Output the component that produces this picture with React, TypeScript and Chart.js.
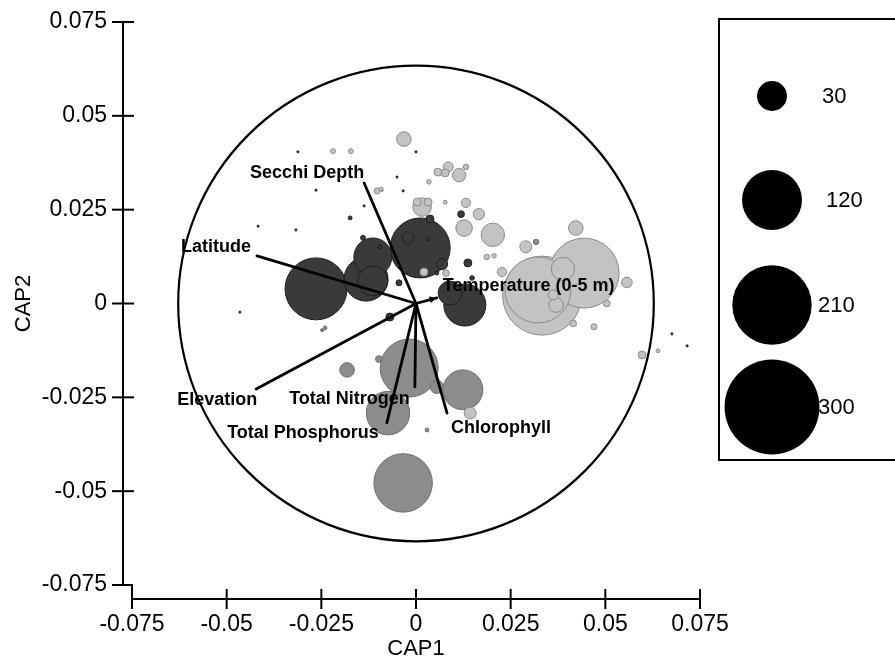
import React, { useEffect, useRef } from 'react';
import { Chart, registerables } from 'chart.js';
Chart.register(...registerables);

// ---- axis ticks ----
const tickValues = [-0.075, -0.05, -0.025, 0, 0.025, 0.05, 0.075];
const tickLabels = ['-0.075', '-0.05', '-0.025', '0', '0.025', '0.05', '0.075'];

// ---- sample groups (CAP1, CAP2, abundance) ----
const darkX = [-0.0264, -0.0132, -0.0114, -0.0114, 0.0011, -0.0021, 0.0032, 0.0069, 0.0129, 0.0090, 0.0137, -0.0069, -0.0045, 0.0037, -0.0140, -0.0174, -0.0095, 0.0055, 0.0148, 0.0119,
  -0.0312, 0.0000, -0.0050, -0.0034, -0.0090, -0.0137, -0.0264, -0.0417, -0.0317, -0.0465, 0.0676, 0.0716];
const darkY = [0.0039, 0.0065, 0.0124, 0.0060, 0.0148, 0.0175, 0.0172, 0.0105, -0.0004, 0.0028, 0.0108, -0.0036, 0.0055, 0.0225, 0.0175, 0.0228, 0.0151, 0.0081, 0.0068, 0.0238,
  0.0404, 0.0404, 0.0337, 0.0300, 0.0302, 0.0260, 0.0302, 0.0206, 0.0196, -0.0023, -0.0081, -0.0113];
const darkSize = [128, 64.5, 48, 30, 120, 4.8, 0.5, 4, 59, 19, 2.1, 2.1, 1.2, 2.1, 0.8, 0.5, 0.5, 0.5, 0.7, 1.5,
  0.15, 0.15, 0.15, 0.15, 0.15, 0.15, 0.15, 0.15, 0.15, 0.15, 0.15, 0.15];

const midX = [-0.0018, 0.0124, -0.0074, -0.0034, -0.0182, -0.0098, 0.0055, 0.0029, 0.0317, -0.0240, -0.0248];
const midY = [-0.0172, -0.0230, -0.0292, -0.0478, -0.0177, -0.0148, -0.0222, -0.0337, 0.0164, -0.0065, -0.0071];
const midSize = [112, 53, 63, 114, 7.1, 1.5, 6, 0.5, 1, 0.5, 0.3];

const lightX = [0.0444, 0.0322, 0.0333, 0.0388, 0.0370, 0.0362, 0.0422, 0.0203, 0.0290, 0.0127, 0.0166, 0.0132, 0.0016, 0.0003, 0.0032, -0.0032, 0.0114, 0.0085, 0.0058, 0.0077,
  0.0132, 0.0034, 0.0077, 0.0187, 0.0206, 0.0227, 0.0557, 0.0504, 0.0470, 0.0415, 0.0597, 0.0639, 0.0079, 0.0143, -0.0219, -0.0172, -0.0103, -0.0092, 0.0021];
const lightY = [0.0081, 0.0036, 0.0021, 0.0092, -0.0004, 0.0023, 0.0201, 0.0183, 0.0151, 0.0201, 0.0238, 0.0268, 0.0257, 0.0270, 0.0270, 0.0438, 0.0342, 0.0364, 0.0350, 0.0348,
  0.0364, 0.0324, 0.0270, 0.0124, 0.0127, 0.0084, 0.0056, 0.0000, -0.0062, -0.0053, -0.0137, -0.0126, 0.0081, -0.0292, 0.0406, 0.0406, 0.0300, 0.0305, 0.0084];
const lightSize = [163, 145, 208, 18, 7.1, 3.3, 7.1, 18.2, 4.8, 9.2, 4.3, 2.9, 11.5, 2.1, 2.1, 7.1, 6, 3.3, 2.1, 2.1,
  1, 0.7, 0.5, 1, 0.7, 2.9, 3.7, 1.5, 1.2, 1.5, 2.1, 0.5, 1.5, 4.8, 0.8, 0.8, 1.2, 0.5, 2.1];

// ---- environmental vectors ----
const vectorNames = ['Secchi Depth', 'Latitude', 'Temperature (0-5 m)', 'Elevation', 'Total Nitrogen', 'Total Phosphorus', 'Chlorophyll'];
const vectorX = [-0.0137, -0.0420, 0.0055, -0.0422, -0.0003, -0.0077, 0.0082];
const vectorY = [0.0321, 0.0127, 0.0015, -0.0228, -0.0222, -0.0318, -0.0292];

// ---- equilibrium circle & legend ----
const circleRadius = 0.0628;
const legendSizes = [30, 120, 210, 300];

const sizeToRadius = (v: number) => 15 * Math.sqrt(v / 30);

// label placement (pixel offsets from vector tip), style only
const labelStyle: Record<string, { align: CanvasTextAlign; dx: number; dy: number }> = {
  'Secchi Depth': { align: 'right', dx: 0, dy: -10 },
  'Latitude': { align: 'right', dx: -6, dy: -9 },
  'Temperature (0-5 m)': { align: 'left', dx: 6, dy: -12 },
  'Elevation': { align: 'right', dx: 1, dy: 11 },
  'Total Nitrogen': { align: 'right', dx: -5, dy: 12 },
  'Total Phosphorus': { align: 'right', dx: -8, dy: 10 },
  'Chlorophyll': { align: 'left', dx: 4, dy: 15 },
};

function buildPoints(xs: number[], ys: number[], sz: number[]) {
  const pts = xs.map((x, i) => ({ x, y: ys[i], r: sizeToRadius(sz[i]), s: sz[i] }));
  pts.sort((a, b) => b.s - a.s);
  return pts.map(p => ({ x: p.x, y: p.y, r: p.r }));
}

const FONT = '"Liberation Sans", Arial, Helvetica, sans-serif';

const decorPlugin = {
  id: 'capDecor',
  beforeDatasetsDraw(chart: any) {
    const { ctx, scales } = chart;
    const xs = scales.x, ys = scales.y;
    const cx = xs.getPixelForValue(0), cy = ys.getPixelForValue(0);
    const r = xs.getPixelForValue(circleRadius) - cx;
    ctx.save();
    ctx.beginPath();
    ctx.arc(cx, cy, r, 0, Math.PI * 2);
    ctx.lineWidth = 2.2;
    ctx.strokeStyle = '#000';
    ctx.stroke();
    ctx.restore();
  },
  afterDatasetsDraw(chart: any) {
    const { ctx, scales } = chart;
    const xs = scales.x, ys = scales.y;
    const ox = xs.getPixelForValue(0), oy = ys.getPixelForValue(0);
    ctx.save();
    ctx.strokeStyle = '#000';
    ctx.fillStyle = '#000';
    ctx.lineWidth = 2.8;
    ctx.lineCap = 'round';
    vectorNames.forEach((name, i) => {
      const ex = xs.getPixelForValue(vectorX[i]);
      const ey = ys.getPixelForValue(vectorY[i]);
      ctx.beginPath();
      ctx.moveTo(ox, oy);
      ctx.lineTo(ex, ey);
      ctx.stroke();
      const len = Math.hypot(ex - ox, ey - oy);
      if (len < 40) {
        const ang = Math.atan2(ey - oy, ex - ox);
        ctx.beginPath();
        ctx.moveTo(ex, ey);
        ctx.lineTo(ex - 8 * Math.cos(ang - 0.45), ey - 8 * Math.sin(ang - 0.45));
        ctx.lineTo(ex - 8 * Math.cos(ang + 0.45), ey - 8 * Math.sin(ang + 0.45));
        ctx.closePath();
        ctx.fill();
      }
      const st = labelStyle[name];
      ctx.font = `bold 18px ${FONT}`;
      ctx.textAlign = st.align;
      ctx.textBaseline = 'middle';
      ctx.fillText(name, ex + st.dx, ey + st.dy);
    });
    ctx.restore();
  },
  afterDraw(chart: any) {
    const { ctx, scales, chartArea } = chart;
    const xs = scales.x, ys = scales.y;
    const axX = chartArea.left - 9;
    const axY = chartArea.bottom + 14;
    ctx.save();
    ctx.strokeStyle = '#000';
    ctx.lineWidth = 2;
    ctx.lineCap = 'butt';
    const yTop = ys.getPixelForValue(0.075);
    const yBot = ys.getPixelForValue(-0.075);
    const xLeft = xs.getPixelForValue(-0.075);
    const xRight = xs.getPixelForValue(0.075);
    ctx.beginPath();
    ctx.moveTo(axX, yTop);
    ctx.lineTo(axX, yBot);
    ctx.lineTo(xLeft, yBot);
    ctx.lineTo(xLeft, axY);
    ctx.lineTo(xRight, axY);
    ctx.stroke();
    tickValues.forEach(v => {
      const py = ys.getPixelForValue(v);
      ctx.beginPath();
      ctx.moveTo(axX - 11, py);
      ctx.lineTo(v === -0.075 ? xLeft : axX + 11, py);
      ctx.stroke();
      const px = xs.getPixelForValue(v);
      ctx.beginPath();
      ctx.moveTo(px, v === -0.075 ? yBot : axY - 10);
      ctx.lineTo(px, axY + 10);
      ctx.stroke();
    });
    // size legend
    ctx.lineWidth = 2;
    ctx.strokeRect(719, 19, 200, 441);
    const cys = [96, 200, 305, 407];
    const lxs = [822, 826, 818, 818];
    legendSizes.forEach((v, i) => {
      ctx.beginPath();
      ctx.arc(772, cys[i], sizeToRadius(v), 0, Math.PI * 2);
      ctx.fillStyle = '#000';
      ctx.fill();
      ctx.font = `22px ${FONT}`;
      ctx.textAlign = 'left';
      ctx.textBaseline = 'middle';
      ctx.fillText(String(v), lxs[i], cys[i] + 1);
    });
    ctx.restore();
  },
};

export default function App() {
  const ref = useRef<HTMLCanvasElement>(null);
  useEffect(() => {
    if (!ref.current) return;
    const tickCfg = {
      afterBuildTicks: (s: any) => { s.ticks = tickValues.map(v => ({ value: v })); },
    };
    const fmt = (v: any) => tickLabels[tickValues.findIndex(t => Math.abs(t - v) < 1e-9)] ?? '';
    const chart = new Chart(ref.current, {
      type: 'bubble',
      data: {
        datasets: [
          { label: 'light', data: buildPoints(lightX, lightY, lightSize), backgroundColor: '#c3c3c3', borderColor: '#8a8a8a', borderWidth: 1 },
          { label: 'mid', data: buildPoints(midX, midY, midSize), backgroundColor: '#8c8c8c', borderColor: '#6e6e6e', borderWidth: 1 },
          { label: 'dark', data: buildPoints(darkX, darkY, darkSize), backgroundColor: '#3a3a3a', borderColor: '#1e1e1e', borderWidth: 1 },
        ],
      },
      options: {
        animation: false,
        responsive: false,
        maintainAspectRatio: false,
        events: [],
        layout: { autoPadding: false, padding: { left: 0, top: 22, right: 195, bottom: 0 } },
        plugins: { legend: { display: false }, tooltip: { enabled: false } },
        scales: {
          x: {
            type: 'linear', min: -0.075, max: 0.075,
            ...tickCfg,
            afterFit: (s: any) => { s.height = 77; s.paddingLeft = 0; s.paddingRight = 0; },
            grid: { display: false, drawTicks: false },
            border: { display: false },
            ticks: { padding: 26, color: '#000', font: { family: FONT, size: 23 }, callback: fmt },
            title: { display: true, text: 'CAP1', color: '#000', font: { family: FONT, size: 22 }, padding: { top: 0, bottom: 0 } },
          },
          y: {
            type: 'linear', min: -0.075, max: 0.075,
            ...tickCfg,
            afterFit: (s: any) => { s.width = 132; s.paddingTop = 0; s.paddingBottom = 0; },
            grid: { display: false, drawTicks: false },
            border: { display: false },
            ticks: { padding: 25, color: '#000', font: { family: FONT, size: 23 }, callback: fmt },
            title: { display: true, text: 'CAP2', color: '#000', font: { family: FONT, size: 22 }, padding: { top: 11, bottom: 0 } },
          },
        },
      },
      plugins: [decorPlugin],
    } as any);
    return () => chart.destroy();
  }, []);
  return (
    <div style={{ position: 'fixed', left: 0, top: 0, width: 895, height: 662, background: '#fff' }}>
      <canvas ref={ref} width={895} height={662} style={{ width: 895, height: 662, display: 'block' }} />
    </div>
  );
}
